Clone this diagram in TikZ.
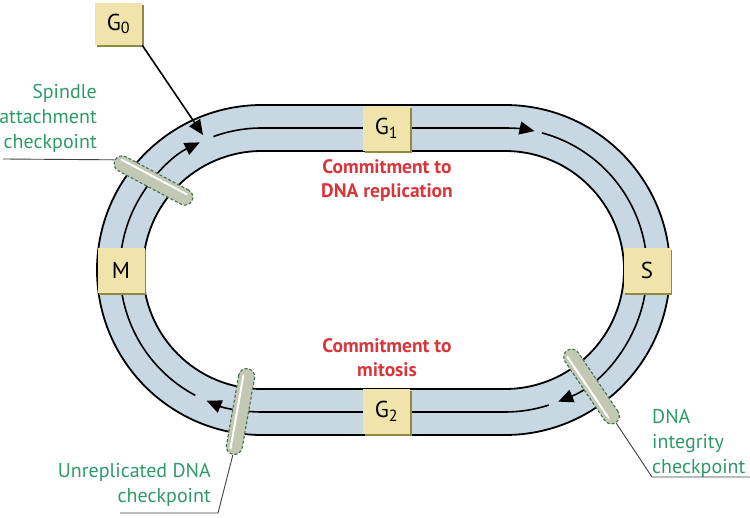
\documentclass[tikz,border=0pt]{standalone}
\usepackage{fontspec}
\setmainfont{PT Sans}
\usetikzlibrary{arrows.meta, calc, shadows}
\definecolor{bandblue}{HTML}{C8D8E3}
\definecolor{phasefill}{HTML}{F0E4AC}
\definecolor{phaseedge}{HTML}{8F8A3E}
\definecolor{ckfill}{HTML}{C3C8B3}
\definecolor{ckedge}{HTML}{3F6F50}
\definecolor{ckgreen}{HTML}{2E9A68}
\definecolor{commitred}{HTML}{D9363B}

\begin{document}
\begin{tikzpicture}[x=1pt, y=1pt, every node/.style={font=\fontsize{20}{25}\selectfont},
  phase/.style={fill=phasefill, minimum width=47pt, minimum height=45pt, inner sep=0pt,
    font=\fontsize{23}{25}\selectfont,
    drop shadow={shadow xshift=1.6pt, shadow yshift=-1.6pt, fill=phaseedge, opacity=1}},
  flow/.style={line width=1.6pt, -{Triangle[length=15pt,width=13pt]}},
  check/.style={draw=ckedge, fill=ckfill, dash pattern=on 3pt off 2pt, line width=1.1pt,
    rounded corners=8pt, minimum width=87pt, minimum height=16pt, inner sep=0pt},
  hilite/.style={white, line width=2pt, line cap=round},
  leader/.style={draw=black!75, line width=0.9pt},
  cklabel/.style={text=ckgreen, inner sep=0pt},
  commit/.style={text=commitred, font=\fontsize{19.5}{24}\selectfont\bfseries, align=center}]

  \useasboundingbox (0,0) rectangle (750,517);

  % the cycle track
  \fill[bandblue, even odd rule] (262,412) -- (505,412) arc (90:-90:165) -- (262,82) arc (-90:-270:165) -- cycle
    (262,366) -- (505,366) arc (90:-90:119) -- (262,128) arc (-90:-270:119) -- cycle;
  \draw[line width=1.8pt] (262,412) -- (505,412) arc (90:-90:165) -- (262,82) arc (-90:-270:165) -- cycle;
  \draw[line width=1.8pt] (262,366) -- (505,366) arc (90:-90:119) -- (262,128) arc (-90:-270:119) -- cycle;

  \draw[flow] ([shift={(110:142)}]262,247) arc (110:90:142) -- (505,389) arc (90:78:142);
  \draw[flow] ([shift={(75:142)}]505,247) arc (75:-68:142);
  \draw[flow] ([shift={(-72:142)}]505,247) arc (-72:-90:142) -- (262,105) arc (270:247:142);
  \draw[flow] ([shift={(242:142)}]262,247) arc (242:116:142);

  % phases
  \node[phase, minimum height=42pt] (g0) at (118.5,493) {G\textsubscript{0}};
  \node[phase] (g1) at (386.5,388.5) {G\textsubscript{1}};
  \node[phase] (s) at (647,246.5) {S};
  \node[phase] (g2) at (386.5,105.5) {G\textsubscript{2}};
  \node[phase] (m) at (121,246.5) {M};

  \coordinate (g0tip) at (203,382);
  \draw[flow] (g0.south east) -- (g0tip);

  % checkpoints
  \node[check, rotate=-28] (sp) at (153.5,336.5) {};
  \node[check, rotate=-56] (di) at (591.5,130.5) {};
  \node[check, rotate=80] (ur) at (240.5,105.5) {};

  \path ($(sp.north west)!.3!(sp.south west)$) coordinate (sp1) ($(sp.north east)!.3!(sp.south east)$) coordinate (sp2);
  \draw[hilite] ($(sp1)!6pt!(sp2)$) -- ($(sp2)!8pt!(sp1)$);
  \path ($(di.south west)!.3!(di.north west)$) coordinate (di1) ($(di.south east)!.3!(di.north east)$) coordinate (di2);
  \draw[hilite] ($(di1)!6pt!(di2)$) -- ($(di2)!8pt!(di1)$);
  \path ($(ur.north west)!.3!(ur.south west)$) coordinate (ur1) ($(ur.north east)!.3!(ur.south east)$) coordinate (ur2);
  \draw[hilite] ($(ur1)!6pt!(ur2)$) -- ($(ur2)!8pt!(ur1)$);

  \node[cklabel, align=right, anchor=east] (splab) at (97,399) {Spindle\\attachment\\checkpoint};
  \node[cklabel, align=left, anchor=west] (dilab) at (652,74) {DNA\\integrity\\checkpoint};
  \node[cklabel, align=right, anchor=east] (urlab) at (211,32.5) {Unreplicated DNA\\checkpoint};

  \coordinate (spl) at (3,358);
  \draw[leader] (spl) -- (sp.west);
  \coordinate (dik) at (652,40);
  \coordinate (die) at (750,40);
  \draw[leader] (di.east) -- (dik) -- (die);
  \coordinate (urk) at (218,4);
  \coordinate (ure) at (120,4);
  \draw[leader] (ur.west) -- (urk) -- (ure);

  \node[commit] (c1) at (387,337) {Commitment to\\DNA replication};
  \node[commit] (c2) at (387,159) {Commitment to\\mitosis};

\end{tikzpicture}
\end{document}
